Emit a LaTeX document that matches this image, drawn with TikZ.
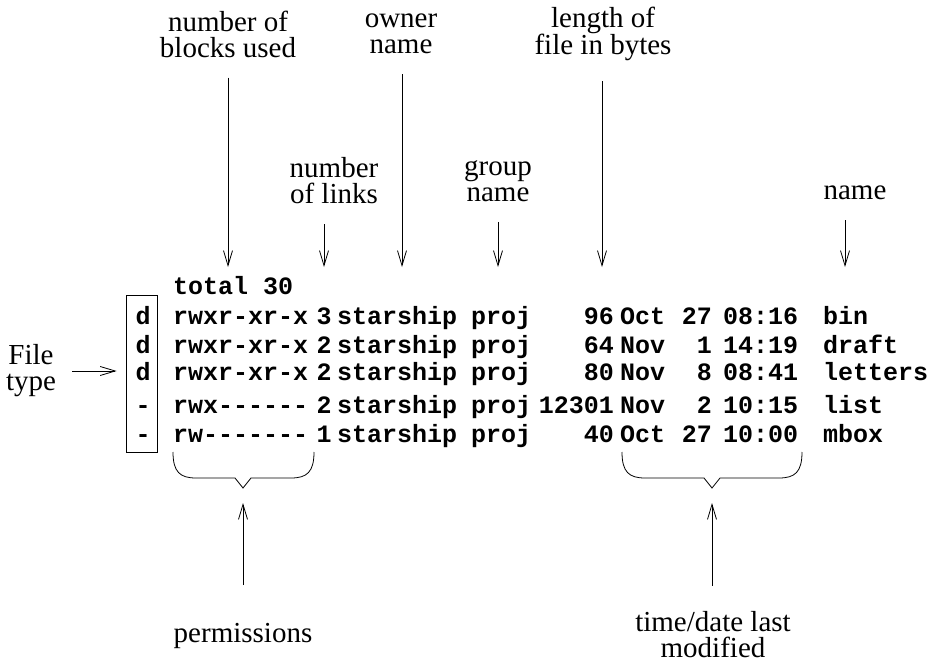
\documentclass[tikz,border=0pt]{standalone}
\usepackage{fontspec}
\setmainfont{Liberation Serif}
\setmonofont{Liberation Mono}
\usetikzlibrary{arrows.meta}

\tikzset{
    lbl/.style={align=center, inner sep=0pt, font=\fontsize{29}{26}\selectfont},
    tty/.style={inner sep=0pt, font=\fontsize{25}{25}\selectfont\ttfamily\bfseries},
    ptr/.style={-{Straight Barb[length=15pt,width=9pt]}, line width=0.8pt},
    brc/.style={line width=0.8pt},
}

\begin{document}
\begin{tikzpicture}[x=1pt,y=-1pt]
    \useasboundingbox (0,0) rectangle (936,666);
    % Labels
    \node[lbl] (blocks) at (228,34) {number of\\blocks used};
    \node[lbl] (owner) at (401,34) {owner\\name};
    \node[lbl] (length) at (603,34) {length of\\file in bytes};
    \node[lbl] (links) at (334,181) {number\\of links};
    \node[lbl] (group) at (498,181) {group\\name};
    \node[lbl] (fname) at (855,193) {name};
    \node[lbl] (ftype) at (31,371) {File\\type};
    \node[lbl] (perms) at (243,636) {permissions};
    \node[lbl] (mtime) at (713,635) {time/date last\\modified};
    % Listing
    \node[tty, anchor=base west] (total) at (173,294) {total 30};
    \foreach \y/\t/\p/\l/\s/\m/\d/\h/\f [count=\i] in {
        324/d/rwxr-xr-x/3/96/Oct/27/08:16/bin,
        353/d/rwxr-xr-x/2/64/Nov/1/14:19/draft,
        380/d/rwxr-xr-x/2/80/Nov/8/08:41/letters,
        413/-/rwx------/2/12301/Nov/2/10:15/list,
        442/-/rw-------/1/40/Oct/27/10:00/mbox} {
        \node[tty, anchor=base] (type\i) at (143,\y) {\t};
        \node[tty, anchor=base west] (perm\i) at (173,\y) {\p};
        \node[tty, anchor=base] (link\i) at (324,\y) {\l};
        \node[tty, anchor=base west] (own\i) at (337,\y) {starship};
        \node[tty, anchor=base west] (grp\i) at (471,\y) {proj};
        \node[tty, anchor=base east] (size\i) at (614,\y) {\s};
        \node[tty, anchor=base west] (mon\i) at (620,\y) {\m};
        \node[tty, anchor=base east] (day\i) at (712,\y) {\d};
        \node[tty, anchor=base west] (time\i) at (723,\y) {\h};
        \node[tty, anchor=base west] (file\i) at (823,\y) {\f};
    }
    \node[draw, line width=0.8pt, minimum width=31pt, minimum height=157pt, inner sep=0pt] (tbox) at (141.5,373.5) {};
    % Arrow tips
    \coordinate (tblocks) at (228,267);
    \coordinate (towner) at (402,267);
    \coordinate (tlength) at (602,267);
    \coordinate (tlinks) at (324,267);
    \coordinate (tgroup) at (498,267);
    \coordinate (tname) at (845,267);
    \coordinate (bperm) at (243,503);
    \coordinate (bdate) at (712,503);
    % Arrows
    \foreach \a/\b in {blocks/tblocks,owner/towner,length/tlength,links/tlinks,group/tgroup,fname/tname} {
        \draw[ptr, shorten <=20pt] (\a.south -| \b) -- (\b);
    }
    \draw[ptr, shorten <=16pt, shorten >=9pt] (ftype.east) -- (ftype.east -| tbox.west);
    \draw[ptr, shorten <=38pt] (perms.north) -- (bperm);
    \draw[ptr, shorten <=26pt] (mtime.north -| bdate) -- (bdate);
    % Braces
    \draw[brc] (173,452) .. controls (173,472) and (180,478) .. (196,478) -- (235,478) -- (243,488) -- (251,478) -- (291,478) .. controls (307,478) and (314,472) .. (314,452);
    \draw[brc] (622,452) .. controls (622,472) and (629,478) .. (645,478) -- (704,478) -- (712,488) -- (720,478) -- (779,478) .. controls (795,478) and (802,472) .. (802,452);
\end{tikzpicture}
\end{document}
